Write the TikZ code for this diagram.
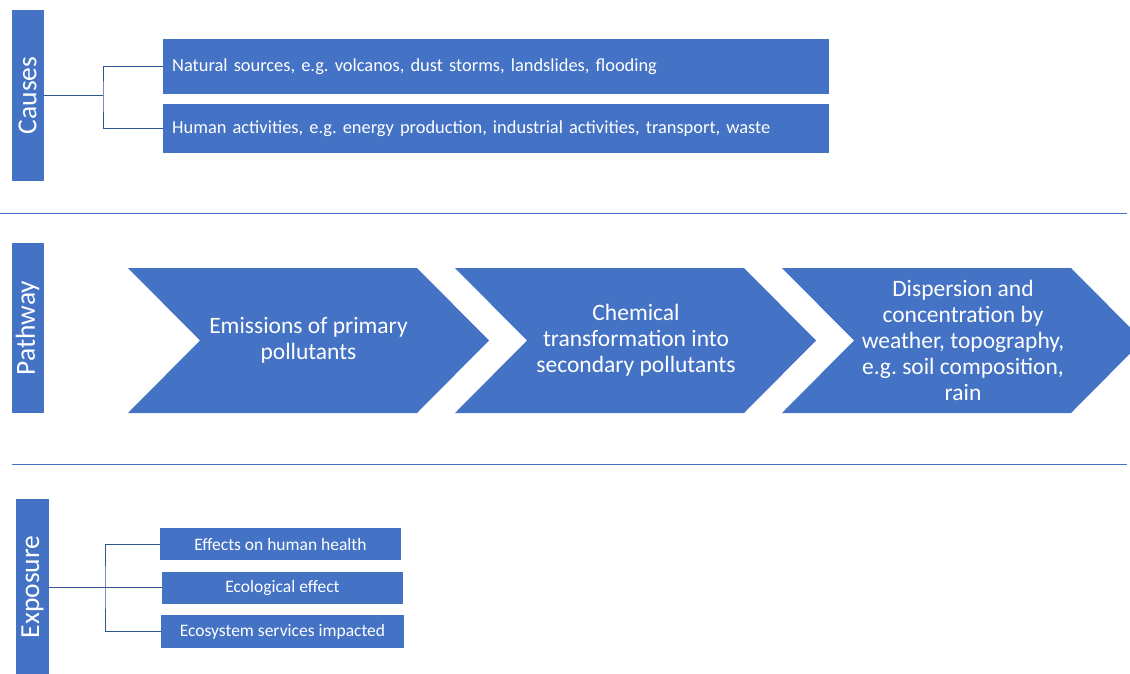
\documentclass[tikz,border=0pt]{standalone}
\usepackage{fontspec}
\usepackage{graphicx}
\setmainfont{Carlito}
\frenchspacing
\definecolor{boxblue}{HTML}{4472C4}
\definecolor{linkblue}{HTML}{2F5597}
\tikzset{
	sidebar/.style={fill=boxblue, minimum width=32pt, inner sep=0pt, text=white, font=\fontsize{27.5}{30}\selectfont},
	causebox/.style={fill=boxblue, anchor=west, text=white, text width=648pt, align=left, inner xsep=9pt, font=\fontsize{18.4}{21}\selectfont},
	effectbox/.style={fill=boxblue, minimum width=241pt, minimum height=32pt, inner sep=0pt, text=white, font=\fontsize{17.5}{20}\selectfont},
	flowtext/.style={text=white, align=center, font=\fontsize{23.5}{26}\selectfont},
	link/.style={linkblue, line width=0.9pt},
	divider/.style={boxblue, line width=0.8pt}
}
\begin{document}
\begin{tikzpicture}[x=1pt,y=-1pt]
	\useasboundingbox (0,0) rectangle (1130,673);
	% causes
	\node[sidebar, minimum height=171pt] (causes) at (27.5,95.5) {\rotatebox{90}{Causes}};
	\node[causebox, minimum height=55pt] (natural) at (163,66.5) {Natural sources, e.g. volcanos, dust storms, landslides, flooding};
	\node[causebox, minimum height=49pt] (human) at (163,128.5) {Human activities, e.g. energy production, industrial activities, transport, waste};
	\coordinate (cjx) at (103,0);
	\draw[link] (causes.east) -- (causes.east -| cjx);
	\draw[link] (natural.west) -| (causes.east -| cjx) |- (human.west);
	\draw[divider] (0,213) -- (1127,213);
	% pathway
	\node[sidebar, minimum height=170pt] (pathway) at (27.5,328) {\rotatebox{90}{Pathway}};
	\begin{scope}
		\clip (0,0) rectangle (1130,673);
		\foreach \x in {128,455,782}
			\fill[boxblue] (\x,268) -- ++(289,0) -- ++(72,72.5) -- ++(-72,72.5) -- ++(-289,0) -- ++(72,-72.5) -- cycle;
	\end{scope}
	\node[flowtext] (emis) at (308.5,340.5) {Emissions of primary\\pollutants};
	\node[flowtext] (chem) at (636,340.5) {Chemical\\transformation into\\secondary pollutants};
	\node[flowtext] (disp) at (963,340.5) {Dispersion and\\concentration by\\weather, topography,\\e.g. soil composition,\\rain};
	\draw[divider] (12,464) -- (1127,464);
	% exposure
	\node[sidebar, minimum height=176pt, minimum width=33pt] (expo) at (32.5,587) {\rotatebox{90}{Exposure}};
	\node[effectbox] (health) at (280.5,544) {Effects on human health};
	\node[effectbox] (ecol) at (282.5,587.5) {Ecological effect};
	\node[effectbox, minimum width=243pt, minimum height=33pt] (services) at (282.5,631.5) {Ecosystem services impacted};
	\coordinate (ejx) at (105,0);
	\draw[link] (expo.east) -- (expo.east -| ecol.west);
	\draw[link] (health.west) -| (expo.east -| ejx) |- (services.west);
\end{tikzpicture}
\end{document}
